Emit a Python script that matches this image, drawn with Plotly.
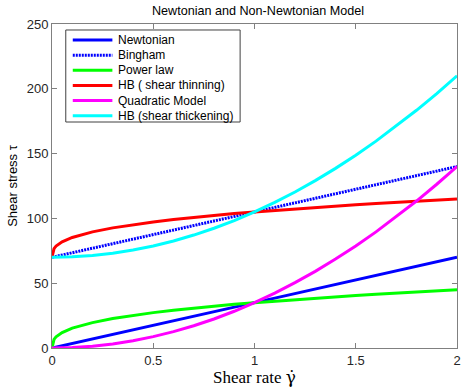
import plotly.graph_objects as go

shear_rate = [0, 0.005, 0.01, 0.02, 0.05, 0.1, 0.2, 0.3, 0.4, 0.5, 0.6, 0.7, 0.8, 0.9,
              1.0, 1.1, 1.2, 1.3, 1.4, 1.5, 1.6, 1.7, 1.8, 1.9, 2.0]

newtonian = [0, 0.18, 0.35, 0.7, 1.75, 3.5, 7, 10.5, 14, 17.5, 21, 24.5, 28, 31.5,
             35, 38.5, 42, 45.5, 49, 52.5, 56, 59.5, 63, 66.5, 70]
bingham = [70, 70.18, 70.35, 70.7, 71.75, 73.5, 77, 80.5, 84, 87.5, 91, 94.5, 98, 101.5,
           105, 108.5, 112, 115.5, 119, 122.5, 126, 129.5, 133, 136.5, 140]
power_law = [0, 5.2, 6.7, 8.6, 11.9, 15.3, 19.6, 22.7, 25.2, 27.3, 29.1, 30.8, 32.3, 33.7,
             35, 36.2, 37.4, 38.5, 39.5, 40.5, 41.5, 42.4, 43.2, 44.1, 45]
hb_thinning = [70, 75.2, 76.7, 78.6, 81.9, 85.3, 89.6, 92.7, 95.2, 97.3, 99.1, 100.8, 102.3, 103.7,
               105, 106.2, 107.4, 108.5, 109.5, 110.5, 111.5, 112.4, 113.2, 114.1, 115]
quadratic = [0, 0.0009, 0.0035, 0.014, 0.0875, 0.35, 1.4, 3.15, 5.6, 8.75, 12.6, 17.15, 22.4, 28.35,
             35, 42.35, 50.4, 59.15, 68.6, 78.75, 89.6, 101.15, 113.4, 126.35, 140]
hb_thickening = [70, 70.0009, 70.0035, 70.014, 70.0875, 70.35, 71.4, 73.15, 75.6, 78.75, 82.6, 87.15, 92.4, 98.35,
                 105, 112.35, 120.4, 129.15, 138.6, 148.75, 159.6, 171.15, 183.4, 196.35, 210]

names = ["Newtonian", "Bingham", "Power law", "HB ( shear thinning)", "Quadratic Model", "HB (shear thickening)"]
series = [newtonian, bingham, power_law, hb_thinning, quadratic, hb_thickening]
colors = ["#0000FF", "#0000FF", "#00FF00", "#FF0000", "#FF00FF", "#00FFFF"]
dashes = ["solid", "2px,1px", "solid", "solid", "solid", "solid"]

x_ticks = [0, 0.5, 1, 1.5, 2]
x_tick_labels = ["0", "0.5", "1", "1.5", "2"]
y_ticks = [0, 50, 100, 150, 200, 250]
y_tick_labels = ["0", "50", "100", "150", "200", "250"]

fig = go.Figure()
for name, ys, c, d in zip(names, series, colors, dashes):
    fig.add_trace(go.Scatter(x=shear_rate, y=ys, mode="lines", name=name, showlegend=False,
                             line=dict(color=c, width=3, dash=d)))

# MATLAB-style compact legend box (paper coordinates)
leg_left, leg_right, leg_top, leg_bottom = 0.034, 0.4645, 0.9815, 0.6975
row0, row_step = 0.9506, 0.0467
line_x0, line_x1, text_x = 0.0513, 0.1491, 0.1589
shapes = [dict(type="rect", xref="paper", yref="paper", x0=leg_left, x1=leg_right,
               y0=leg_bottom, y1=leg_top, line=dict(color="#404040", width=1),
               fillcolor="white", layer="above")]
annotations = []
for i, (name, c, d) in enumerate(zip(names, colors, dashes)):
    yy = row0 - i * row_step
    shapes.append(dict(type="line", xref="paper", yref="paper", x0=line_x0, x1=line_x1,
                       y0=yy, y1=yy, line=dict(color=c, width=3, dash=d), layer="above"))
    annotations.append(dict(xref="paper", yref="paper", x=text_x, y=yy, xanchor="left",
                            yanchor="middle", text=name, showarrow=False,
                            font=dict(family="Liberation Sans, Arial", size=12, color="black")))

axis_common = dict(showgrid=False, zeroline=False, showline=True, linecolor="#808080",
                   linewidth=1, mirror="ticks", ticks="inside", ticklen=5, tickcolor="#808080",
                   tickfont=dict(family="Liberation Sans, Arial", size=13, color="#262626"))

fig.update_layout(
    width=465, height=387,
    margin=dict(l=52, r=4, t=24, b=39),
    paper_bgcolor="white", plot_bgcolor="white",
    title=dict(text="Newtonian and Non-Newtonian Model", x=0.555, xanchor="center", y=0.985, yanchor="top",
               font=dict(family="Liberation Sans, Arial", size=12.6, color="black")),
    xaxis=dict(range=[0, 2], tickvals=x_ticks, ticktext=x_tick_labels,
               title=dict(text="Shear rate <span style='font-family:DejaVu Serif'>γ̇</span>", standoff=2,
                          font=dict(family="Liberation Serif, Times New Roman", size=17, color="black")),
               **axis_common),
    yaxis=dict(range=[0, 250], tickvals=y_ticks, ticktext=y_tick_labels,
               title=dict(text="Shear stress τ", standoff=6,
                          font=dict(family="Liberation Sans, Arial", size=13, color="black")),
               **axis_common),
    shapes=shapes,
    annotations=annotations,
    showlegend=False,
)

fig.write_html("out.html")
